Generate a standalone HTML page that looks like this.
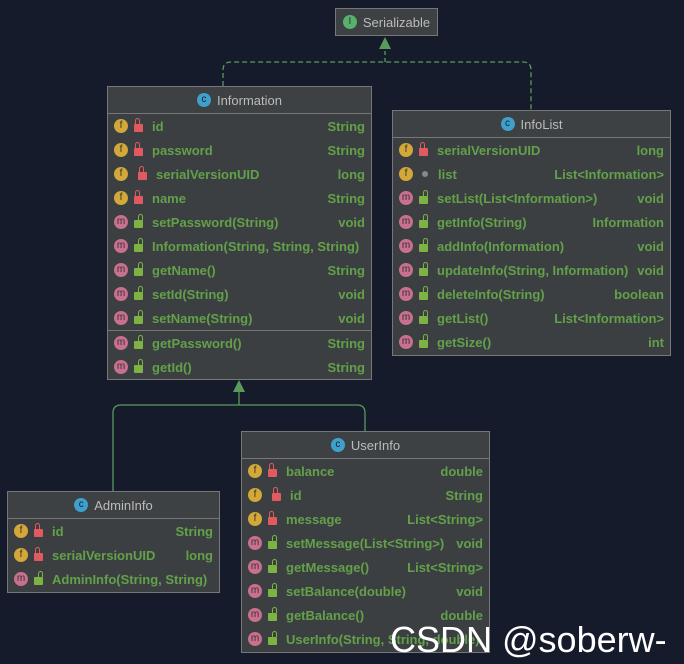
<!DOCTYPE html><html><head><meta charset="utf-8"><style>
body{margin:0;width:684px;height:664px;background:#161b2b;position:relative;overflow:hidden;font-family:"Liberation Sans","DejaVu Sans",sans-serif}
.b{position:absolute;background:#3c3f41;border:1px solid #777;box-sizing:border-box}
.h{height:26px;border-bottom:1px solid #777;color:#bbb;font-size:13px;display:flex;align-items:center;justify-content:center;background:#3e4143}
.r{height:24px;display:flex;align-items:center;font-size:13px;font-weight:bold;color:#62a14a;padding:0 6px 0 6px;white-space:nowrap}
.r .n{flex:1}
.i{width:14px;height:14px;border-radius:50%;display:inline-block;font-size:10px;line-height:14px;text-align:center;color:#333;font-weight:normal;margin-right:6px;flex:none}
.f{background:#d3a738}.m{background:#c8708e}.c{background:#3fa0cc;color:#123}.ii{background:#58b06a}
.l{width:9px;height:8px;display:inline-block;margin-right:9px;position:relative;border-radius:1px;flex:none;top:2px}
.l:before{content:"";position:absolute;left:1px;top:-6px;width:5px;height:6px;border:1.5px solid;border-bottom:none;border-radius:4px 4px 0 0;box-sizing:border-box}
.lr{background:#e05a5f}.lr:before{border-color:#e05a5f}
.lg{background:#7cb342}.lg:before{border-color:#7cb342;left:4px}
.d{width:6px;height:6px;border-radius:50%;background:#888;display:inline-block;margin:0 10px 0 3px;flex:none}
.sep{border-top:1px solid #777}
</style></head><body>
<svg width="684" height="664" style="position:absolute;left:0;top:0">
<path d="M223 86 V70 Q223 62 231 62 H523 Q531 62 531 70 V110" fill="none" stroke="#5a9a5a" stroke-width="1.3" stroke-dasharray="5,3"/>
<line x1="385" y1="62" x2="385" y2="48" stroke="#5a9a5a" stroke-width="1.3" stroke-dasharray="4,3"/>
<polygon points="385,37 379,49 391,49" fill="#5a9a5a"/>
<path d="M113 491 V413 Q113 405 121 405 H357 Q365 405 365 413 V431" fill="none" stroke="#5a9a5a" stroke-width="1.3"/>
<line x1="239" y1="405" x2="239" y2="392" stroke="#5a9a5a" stroke-width="1.3"/>
<polygon points="239,380 233,392 245,392" fill="#5a9a5a"/>
</svg>
<div class="b" style="left:335px;top:8px;width:103px;height:28px"><div class="h" style="height:26px;border:none"><span class="i ii">I</span>Serializable</div></div>

<div class="b" style="left:107px;top:86px;width:265px;height:294px">
<div class="h"><span class="i c">c</span>Information</div>
<div class="r"><span class="i f">f</span><span class="l lr"></span><span class="n">id</span>String</div>
<div class="r"><span class="i f">f</span><span class="l lr"></span><span class="n">password</span>String</div>
<div class="r"><span class="i f">f</span><span class="l lr" style="margin-left:4px"></span><span class="n">serialVersionUID</span>long</div>
<div class="r"><span class="i f">f</span><span class="l lr"></span><span class="n">name</span>String</div>
<div class="r"><span class="i m">m</span><span class="l lg"></span><span class="n">setPassword(String)</span>void</div>
<div class="r"><span class="i m">m</span><span class="l lg"></span><span class="n">Information(String, String, String)</span></div>
<div class="r"><span class="i m">m</span><span class="l lg"></span><span class="n">getName()</span>String</div>
<div class="r"><span class="i m">m</span><span class="l lg"></span><span class="n">setId(String)</span>void</div>
<div class="r"><span class="i m">m</span><span class="l lg"></span><span class="n">setName(String)</span>void</div>
<div class="r sep"><span class="i m">m</span><span class="l lg"></span><span class="n">getPassword()</span>String</div>
<div class="r"><span class="i m">m</span><span class="l lg"></span><span class="n">getId()</span>String</div>
</div>

<div class="b" style="left:392px;top:110px;width:279px;height:246px">
<div class="h"><span class="i c">c</span>InfoList</div>
<div class="r"><span class="i f">f</span><span class="l lr"></span><span class="n">serialVersionUID</span>long</div>
<div class="r"><span class="i f">f</span><span class="d"></span><span class="n">list</span>List&lt;Information&gt;</div>
<div class="r"><span class="i m">m</span><span class="l lg"></span><span class="n">setList(List&lt;Information&gt;)</span>void</div>
<div class="r"><span class="i m">m</span><span class="l lg"></span><span class="n">getInfo(String)</span>Information</div>
<div class="r"><span class="i m">m</span><span class="l lg"></span><span class="n">addInfo(Information)</span>void</div>
<div class="r"><span class="i m">m</span><span class="l lg"></span><span class="n">updateInfo(String, Information)</span>void</div>
<div class="r"><span class="i m">m</span><span class="l lg"></span><span class="n">deleteInfo(String)</span>boolean</div>
<div class="r"><span class="i m">m</span><span class="l lg"></span><span class="n">getList()</span>List&lt;Information&gt;</div>
<div class="r"><span class="i m">m</span><span class="l lg"></span><span class="n">getSize()</span>int</div>
</div>

<div class="b" style="left:7px;top:491px;width:213px;height:102px">
<div class="h"><span class="i c">c</span>AdminInfo</div>
<div class="r"><span class="i f">f</span><span class="l lr"></span><span class="n">id</span>String</div>
<div class="r"><span class="i f">f</span><span class="l lr"></span><span class="n">serialVersionUID</span>long</div>
<div class="r"><span class="i m">m</span><span class="l lg"></span><span class="n">AdminInfo(String, String)</span></div>
</div>

<div class="b" style="left:241px;top:431px;width:249px;height:222px">
<div class="h"><span class="i c">c</span>UserInfo</div>
<div class="r"><span class="i f">f</span><span class="l lr"></span><span class="n">balance</span>double</div>
<div class="r"><span class="i f">f</span><span class="l lr" style="margin-left:4px"></span><span class="n">id</span>String</div>
<div class="r"><span class="i f">f</span><span class="l lr"></span><span class="n">message</span>List&lt;String&gt;</div>
<div class="r"><span class="i m">m</span><span class="l lg"></span><span class="n">setMessage(List&lt;String&gt;)</span>void</div>
<div class="r"><span class="i m">m</span><span class="l lg"></span><span class="n">getMessage()</span>List&lt;String&gt;</div>
<div class="r"><span class="i m">m</span><span class="l lg"></span><span class="n">setBalance(double)</span>void</div>
<div class="r"><span class="i m">m</span><span class="l lg"></span><span class="n">getBalance()</span>double</div>
<div class="r"><span class="i m">m</span><span class="l lg"></span><span class="n">UserInfo(String, String, double)</span></div>
</div>
<div style="position:absolute;left:390px;top:620px;color:#fff;font-size:36px;line-height:40px;white-space:nowrap">CSDN @soberw-</div>
</body></html>
